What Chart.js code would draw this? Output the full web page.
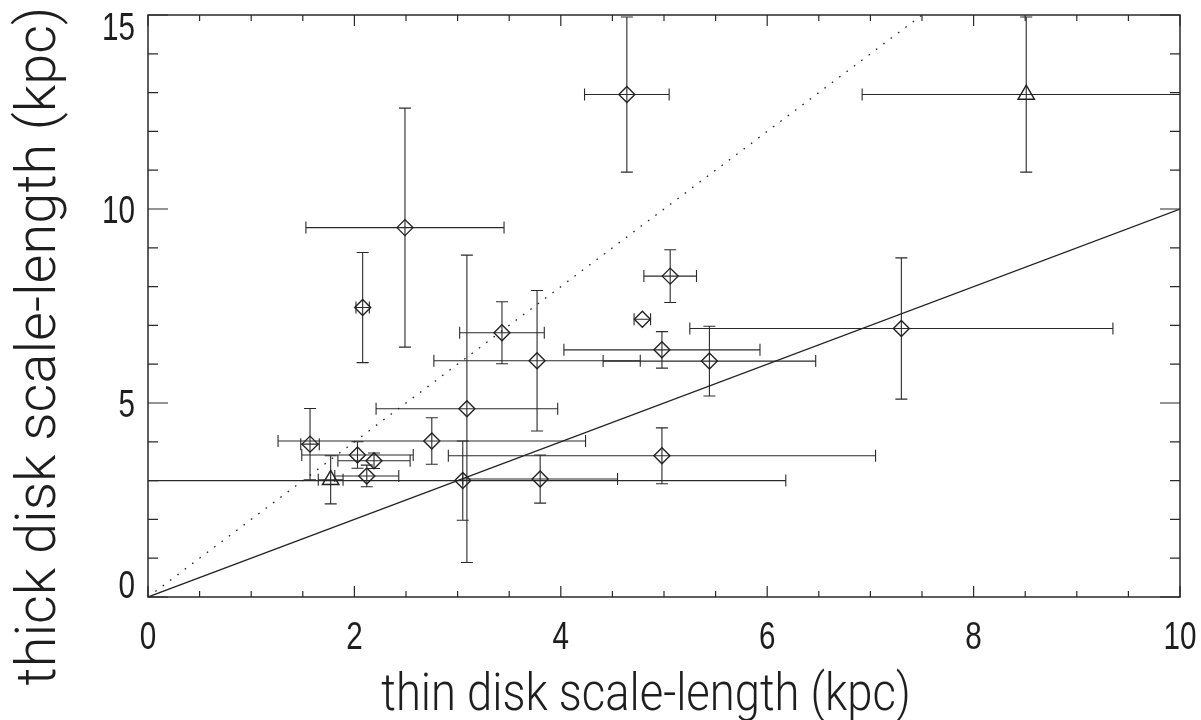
<!DOCTYPE html>
<html>
<head>
<meta charset="utf-8">
<title>Thin vs thick disk scale-lengths</title>
<script src="https://cdn.jsdelivr.net/npm/chart.js@4.4.1/dist/chart.umd.min.js"></script>
<style>
  html, body { margin: 0; padding: 0; background: #fff; }
  #wrap { width: 1201px; height: 720px; }
</style>
</head>
<body>
<div id="wrap"><canvas id="scaleChart" width="1201" height="720"></canvas></div>
<script>
// galaxies drawn with diamonds (kpc)
const diamondThin = [1.57, 2.75, 2.03, 2.19, 2.12, 3.05, 3.80, 4.98, 3.09, 3.43, 3.77, 5.44, 4.98, 4.79, 5.06, 2.08, 2.49, 4.64, 7.30]
const diamondThick = [3.94, 4.02, 3.66, 3.51, 3.12, 3.00, 3.04, 3.64, 4.85, 6.81, 6.09, 6.08, 6.37, 7.16, 8.27, 7.46, 9.52, 12.95, 6.92]
const diamondThinErr = [0.09, 1.49, 0.54, 0.35, 0.31, 3.13, 0.75, 2.07, 0.88, 0.41, 1.00, 1.03, 0.95, 0.08, 0.255, 0.065, 0.96, 0.41, 2.05]
const diamondThickErr = [0.92, 0.60, 0.34, 0.20, 0.28, 1.02, 0.62, 0.72, 3.96, 0.80, 1.81, 0.90, 0.47, 0, 0.68, 1.42, 3.08, 2.00, 1.82]

// galaxies drawn with triangles (kpc)
const triangleThin = [1.77, 8.51]
const triangleThick = [3.02, 12.95]
const triangleThinErr = [0.12, 1.59]
const triangleThickErr = [0.62, 2.00]

// reference relations: thick = thin (solid) and thick = 2 x thin (dotted)
const equalLine = [[0, 0], [10, 10]]
const doubleLine = [[0, 0], [7.5, 15]]

const xTicks = [0, 2, 4, 6, 8, 10]
const yTicks = [0, 5, 10, 15]
const xMinorTicks = [0.5, 1, 1.5, 2.5, 3, 3.5, 4.5, 5, 5.5, 6.5, 7, 7.5, 8.5, 9, 9.5]
const yMinorTicks = [1, 2, 3, 4, 6, 7, 8, 9, 11, 12, 13, 14]

const xTitle = "thin disk scale-length (kpc)"
const yTitle = "thick disk scale-length (kpc)"

const ink = "#222"
const textInk = "#1e1e1e"

function toPoints(xs, ys) {
  return xs.map((x, i) => ({ x: x, y: ys[i] }))
}

// fillText with optional rotation and horizontal squeeze
function putText(ctx, text, x, y, opts) {
  ctx.save()
  ctx.translate(x, y)
  if (opts.rotate) ctx.rotate(opts.rotate)
  ctx.scale(opts.squeeze || 1, 1)
  ctx.font = opts.font
  ctx.fillStyle = textInk
  ctx.textAlign = opts.align || "center"
  ctx.textBaseline = "alphabetic"
  ctx.fillText(text, 0, 0)
  ctx.restore()
}

// frame with inward ticks on all four sides, labels, plus x/y error bars with caps
const framePlugin = {
  id: "frameAndErrors",
  beforeDatasetsDraw(chart) {
    const { ctx, chartArea: a, scales } = chart
    const xs = scales.x
    const ys = scales.y
    ctx.save()
    ctx.beginPath()
    ctx.rect(a.left, a.top, a.right - a.left, a.bottom - a.top)
    ctx.clip()
    ctx.strokeStyle = "#2a2a2a"
    ctx.lineWidth = 1.1
    const cap = 6
    chart.data.datasets.forEach((ds) => {
      if (!ds.xErr) return
      ds.data.forEach((p, i) => {
        const px = xs.getPixelForValue(p.x)
        const py = ys.getPixelForValue(p.y)
        const ex = ds.xErr[i]
        const ey = ds.yErr[i]
        ctx.beginPath()
        if (ex > 0) {
          const x0 = xs.getPixelForValue(p.x - ex)
          const x1 = xs.getPixelForValue(p.x + ex)
          ctx.moveTo(x0, py)
          ctx.lineTo(x1, py)
          ctx.moveTo(x0, py - cap)
          ctx.lineTo(x0, py + cap)
          ctx.moveTo(x1, py - cap)
          ctx.lineTo(x1, py + cap)
        }
        if (ey > 0) {
          const y0 = ys.getPixelForValue(p.y - ey)
          const y1 = ys.getPixelForValue(p.y + ey)
          ctx.moveTo(px, y0)
          ctx.lineTo(px, y1)
          ctx.moveTo(px - cap, y0)
          ctx.lineTo(px + cap, y0)
          ctx.moveTo(px - cap, y1)
          ctx.lineTo(px + cap, y1)
        }
        ctx.stroke()
      })
    })
    ctx.restore()
  },
  afterDraw(chart) {
    const { ctx, chartArea: a, scales } = chart
    ctx.save()
    ctx.strokeStyle = "#2a2a2a"
    ctx.lineWidth = 1.2
    ctx.beginPath()
    const xTick = (v, len) => {
      const px = scales.x.getPixelForValue(v)
      ctx.moveTo(px, a.bottom)
      ctx.lineTo(px, a.bottom - len)
      ctx.moveTo(px, a.top)
      ctx.lineTo(px, a.top + len)
    }
    const yTick = (v, len) => {
      const py = scales.y.getPixelForValue(v)
      ctx.moveTo(a.left, py)
      ctx.lineTo(a.left + len, py)
      ctx.moveTo(a.right, py)
      ctx.lineTo(a.right - len, py)
    }
    xTicks.forEach((v) => xTick(v, 11))
    xMinorTicks.forEach((v) => xTick(v, 6))
    yTicks.forEach((v) => yTick(v, 20))
    yMinorTicks.forEach((v) => yTick(v, 10))
    ctx.stroke()
    ctx.lineWidth = 1.5
    ctx.strokeRect(a.left, a.top, a.right - a.left, a.bottom - a.top)
    ctx.restore()

    // tick labels: narrow Helvetica-like digits
    const tickFont = "38px 'Liberation Sans', Arial, sans-serif"
    const digitH = 27
    xTicks.forEach((v) => {
      putText(ctx, String(v), scales.x.getPixelForValue(v), a.bottom + 52, { font: tickFont, squeeze: 0.78 })
    })
    yTicks.forEach((v) => {
      let cy = scales.y.getPixelForValue(v)
      cy = Math.min(Math.max(cy, a.top + digitH / 2 - 2), a.bottom - digitH / 2 + 1)
      putText(ctx, String(v), a.left - 13, cy + digitH / 2, { font: tickFont, squeeze: 0.78, align: "right" })
    })

    // axis titles
    putText(ctx, xTitle, 646, 710, { font: "300 51px Roboto, 'Liberation Sans', sans-serif", squeeze: 0.89 })
    putText(ctx, yTitle, 55, 346, { font: "300 56px Roboto, 'Liberation Sans', sans-serif", rotate: -Math.PI / 2 })
  },
}

const ctx = document.getElementById("scaleChart").getContext("2d")
const scaleChart = new Chart(ctx, {
  type: "scatter",
  data: {
    datasets: [
      {
        label: "diamonds",
        data: toPoints(diamondThin, diamondThick),
        xErr: diamondThinErr,
        yErr: diamondThickErr,
        pointStyle: "rectRot",
        pointRadius: 8,
        borderColor: ink,
        borderWidth: 1.4,
        backgroundColor: "rgba(0,0,0,0)",
      },
      {
        label: "triangles",
        data: toPoints(triangleThin, triangleThick),
        xErr: triangleThinErr,
        yErr: triangleThickErr,
        pointStyle: "triangle",
        pointRadius: 9.5,
        borderColor: ink,
        borderWidth: 1.4,
        backgroundColor: "rgba(0,0,0,0)",
      },
      {
        type: "line",
        label: "thick = thin",
        data: equalLine.map(([x, y]) => ({ x, y })),
        borderColor: ink,
        borderWidth: 1.3,
        pointRadius: 0,
      },
      {
        type: "line",
        label: "thick = 2 thin",
        data: doubleLine.map(([x, y]) => ({ x, y })),
        borderColor: ink,
        borderWidth: 1.3,
        borderDash: [1.6, 7.6],
        pointRadius: 0,
      },
    ],
  },
  options: {
    responsive: false,
    animation: false,
    events: [],
    layout: { padding: { top: 15, right: 21, left: 0, bottom: 0 } },
    plugins: {
      legend: { display: false },
      tooltip: { enabled: false },
    },
    scales: {
      x: {
        type: "linear",
        min: 0,
        max: 10,
        afterBuildTicks(s) {
          s.ticks = xTicks.map((v) => ({ value: v }))
        },
        afterFit(s) {
          s.height = 123
          s.paddingLeft = 0
          s.paddingRight = 0
        },
        grid: { display: false, drawTicks: false },
        border: { display: false },
        ticks: { display: false },
      },
      y: {
        type: "linear",
        min: 0,
        max: 15,
        afterBuildTicks(s) {
          s.ticks = yTicks.map((v) => ({ value: v }))
        },
        afterFit(s) {
          s.width = 148
          s.paddingTop = 0
          s.paddingBottom = 0
        },
        grid: { display: false, drawTicks: false },
        border: { display: false },
        ticks: { display: false },
      },
    },
  },
  plugins: [framePlugin],
})
</script>
</body>
</html>
